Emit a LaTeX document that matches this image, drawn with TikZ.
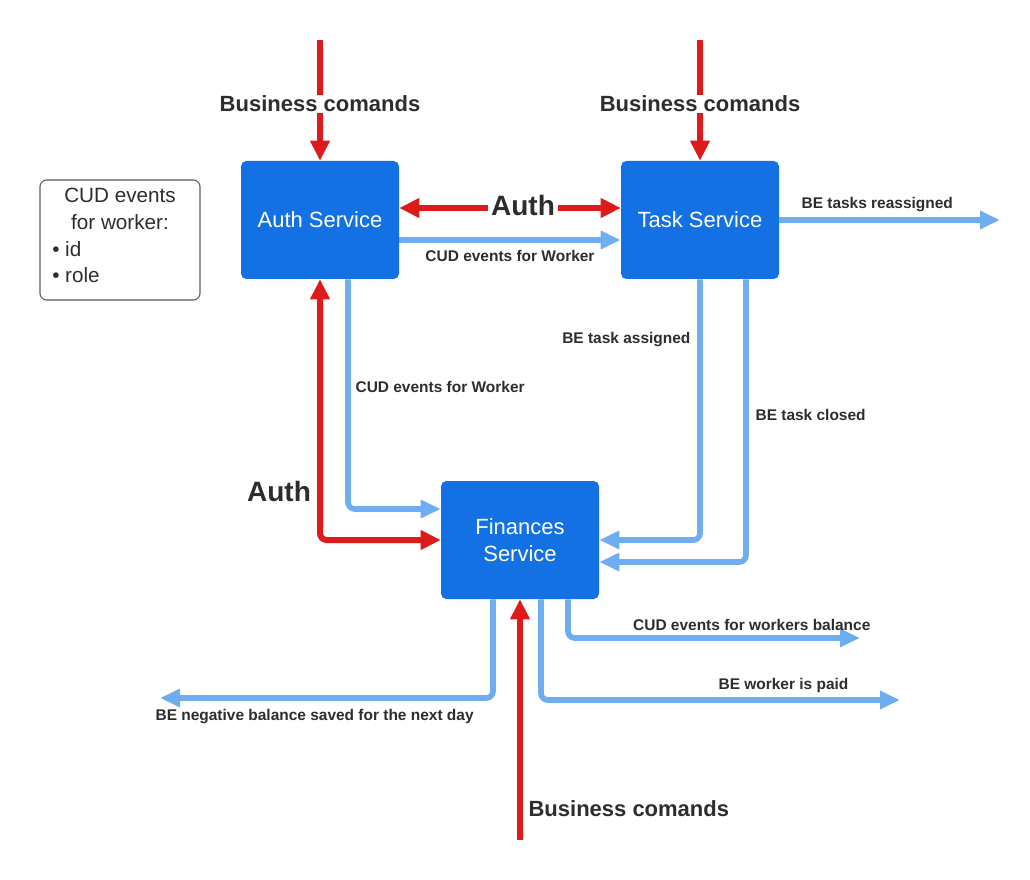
\documentclass[tikz,border=0pt]{standalone}
\usepackage{fontspec}
\setmainfont{Liberation Sans}
\usetikzlibrary{arrows.meta,calc}
\definecolor{boxblue}{RGB}{19,113,227}
\definecolor{flowblue}{RGB}{110,174,240}
\definecolor{flowred}{RGB}{221,27,27}
\definecolor{txt}{RGB}{45,45,45}
\definecolor{notegray}{RGB}{90,90,90}
\tikzset{
  box/.style={fill=boxblue, rounded corners=4pt, minimum width=118.5pt, minimum height=88.5pt,
    text=white, font=\fontsize{16.5}{20}\selectfont, align=center, inner sep=0pt},
  redflow/.style={draw=flowred, line width=4.5pt, line join=round, rounded corners=5pt, -{Triangle[length=15pt,width=14pt]}},
  redboth/.style={draw=flowred, line width=4.5pt, line join=round, rounded corners=5pt, {Triangle[length=15pt,width=14pt]}-{Triangle[length=15pt,width=14pt]}},
  blueflow/.style={draw=flowblue, line width=4.2pt, line join=round, rounded corners=5pt, -{Triangle[length=15pt,width=13pt]}},
  lbl/.style={text=txt, font=\bfseries\fontsize{11.6}{13}\selectfont, inner sep=1pt},
  biglbl/.style={text=txt, font=\bfseries\fontsize{16.5}{19}\selectfont, inner sep=1pt},
  hugelbl/.style={text=txt, font=\bfseries\fontsize{21}{24}\selectfont, inner sep=1pt},
}
\begin{document}
\begin{tikzpicture}[x=0.75pt,y=-0.75pt]
\useasboundingbox (0,0) rectangle (1030,880);

% boxes
\node[box] (auth) at (320,220) {Auth Service};
\node[box] (task) at (700,220) {Task Service};
\node[box] (fin) at (520,540) {Finances\\Service};
\node[draw=notegray, line width=0.8pt, rounded corners=5pt, minimum width=120pt, minimum height=90pt] (note) at (120,240) {};
\node[text=txt, font=\fontsize{15.5}{20}\selectfont, align=center] (notetitle) at (120,209) {CUD events\\for worker:};
\node[text=txt, font=\fontsize{15.5}{20}\selectfont, align=left, anchor=west, inner sep=0pt] (notelist) at (52,262) {• id\\• role};

% free ends
\coordinate (bcaTop) at (320,40);
\coordinate (bctTop) at (700,40);
\coordinate (bcfBot) at (520,840);
\coordinate (reassEnd) at (1000,220);
\coordinate (negEnd) at (160,698);
\coordinate (paidEnd) at (900,700);
\coordinate (balEnd) at (860,638);

% red business commands
\draw[redflow] (bcaTop) -- (auth.north);
\draw[redflow] (bctTop) -- (task.north);
\draw[redflow] (bcfBot) -- (fin.south);
\node[biglbl, fill=white] (bca) at (320,104) {Business comands};
\node[biglbl, fill=white] (bct) at (700,104) {Business comands};
\node[biglbl, anchor=west] (bcf) at (527,809) {Business comands};

% auth <-> task
\draw[redboth] ([yshift=9pt]auth.east) -- ([yshift=9pt]task.west);
\node[hugelbl, fill=white, inner sep=2pt] (authTop) at (523,205) {Auth};
\draw[blueflow] ([yshift=-15pt]auth.east) -- ([yshift=-15pt]task.west);
\node[lbl] (cudTop) at (510,256) {CUD events for Worker};

% task -> right
\draw[blueflow] (task.east) -- (reassEnd);
\node[lbl, anchor=west] (reass) at (800,205) {BE tasks reassigned};

% auth -> finances
\draw[blueflow] ([xshift=21pt]auth.south) |- ([yshift=23.25pt]fin.west);
\node[lbl, anchor=west] (cudLeft) at (354,387) {CUD events for Worker};
\draw[redboth] (auth.south) |- (fin.west);
\node[hugelbl] (authLeft) at (279,491) {Auth};

% task -> finances
\draw[blueflow] (task.south) |- (fin.east);
\draw[blueflow] ([xshift=34.5pt]task.south) |- ([yshift=-16.5pt]fin.east);
\node[lbl, anchor=east] (assigned) at (692,340) {BE task assigned};
\node[lbl, anchor=west] (closed) at (754,415) {BE task closed};

% finances outputs
\draw[blueflow] ([xshift=-20.25pt]fin.south) |- (negEnd);
\node[lbl, anchor=west] (neg) at (154,717) {BE negative balance saved for the next day};
\draw[blueflow] ([xshift=15.75pt]fin.south) |- (paidEnd);
\node[lbl, anchor=east] (paid) at (850,685) {BE worker is paid};
\draw[blueflow] ([xshift=36pt]fin.south) |- (balEnd);
\node[lbl, anchor=east] (bal) at (872,625) {CUD events for workers balance};
\end{tikzpicture}
\end{document}
